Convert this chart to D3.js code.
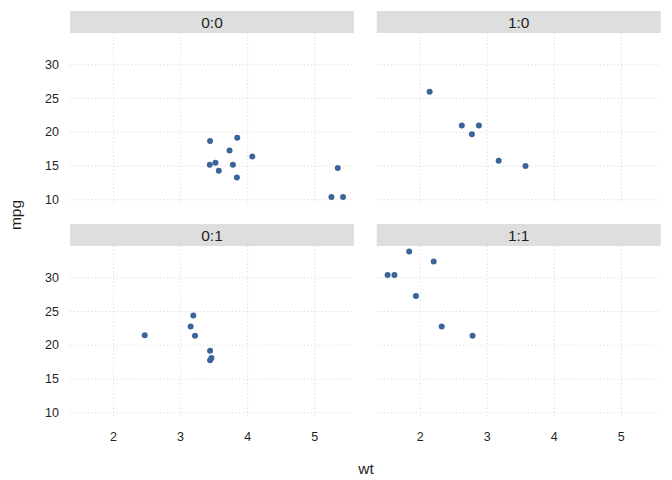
<!DOCTYPE html>
<html>
<head>
<meta charset="utf-8">
<script src="https://cdn.jsdelivr.net/npm/d3@7"></script>
<style>
  body { margin: 0; background: #fff; }
  text { font-family: "Liberation Sans", Arial, Helvetica, sans-serif; }
</style>
</head>
<body>
<svg id="chart" width="672" height="480"></svg>
<script>
// mtcars: weight (1000 lbs), miles per gallon, transmission (am), engine (vs)
const wt  = [2.620, 2.875, 2.320, 3.215, 3.440, 3.460, 3.570, 3.190, 3.150, 3.440, 3.440, 4.070, 3.730, 3.780, 5.250, 5.424, 5.345, 2.200, 1.615, 1.835, 2.465, 3.520, 3.435, 3.840, 3.845, 1.935, 2.140, 1.513, 3.170, 2.770, 3.570, 2.780];
const mpg = [21.0, 21.0, 22.8, 21.4, 18.7, 18.1, 14.3, 24.4, 22.8, 19.2, 17.8, 16.4, 17.3, 15.2, 10.4, 10.4, 14.7, 32.4, 30.4, 33.9, 21.5, 15.5, 15.2, 13.3, 19.2, 27.3, 26.0, 30.4, 15.8, 19.7, 15.0, 21.4];
const am  = [1, 1, 1, 0, 0, 0, 0, 0, 0, 0, 0, 0, 0, 0, 0, 0, 0, 1, 1, 1, 0, 0, 0, 0, 0, 1, 1, 1, 1, 1, 1, 1];
const vs  = [0, 0, 1, 1, 0, 1, 0, 1, 1, 1, 1, 0, 0, 0, 0, 0, 0, 1, 1, 1, 1, 0, 0, 0, 0, 1, 0, 1, 0, 0, 0, 1];
const facetLabels = ["0:0", "1:0", "0:1", "1:1"];
const xTicks = [2, 3, 4, 5];
const yTicks = [10, 15, 20, 25, 30];

const svg = d3.select("#chart");
const gridColor = "#d4d4d4";
const pointColor = "#3b6598";
const textColor = "#1f1f1f";

const panelW = 284, panelH = 172, stripH = 22;
const colX = [70, 376.7];
const rowY = [11, 224];

const x = d3.scaleLinear().domain([1.35, 5.587]).range([0, panelW]);
const y = d3.scaleLinear().domain([9.23, 34.71]).range([panelH, 0]);

const data = wt.map((w, i) => ({ wt: w, mpg: mpg[i], key: am[i] + ":" + vs[i] }));

facetLabels.forEach((lab, k) => {
  const c = k % 2, r = Math.floor(k / 2);
  const g = svg.append("g").attr("transform", `translate(${colX[c]},${rowY[r] + stripH})`);

  // grid
  g.selectAll(".gx").data(xTicks).enter().append("line")
    .attr("x1", d => x(d)).attr("x2", d => x(d))
    .attr("y1", 0).attr("y2", panelH)
    .attr("stroke", gridColor).attr("stroke-width", 1)
    .attr("stroke-dasharray", "1,2.6");
  g.selectAll(".gy").data(yTicks).enter().append("line")
    .attr("x1", 0).attr("x2", panelW)
    .attr("y1", d => y(d)).attr("y2", d => y(d))
    .attr("stroke", gridColor).attr("stroke-width", 1)
    .attr("stroke-dasharray", "1,2.6");

  // points
  g.selectAll("circle").data(data.filter(d => d.key === lab)).enter().append("circle")
    .attr("cx", d => x(d.wt)).attr("cy", d => y(d.mpg))
    .attr("r", 3).attr("fill", pointColor);

  // strip
  const s = svg.append("g").attr("transform", `translate(${colX[c]},${rowY[r]})`);
  s.append("rect").attr("width", panelW).attr("height", stripH).attr("fill", "#dedede");
  s.append("text").attr("x", panelW / 2).attr("y", stripH / 2 + 0.8)
    .attr("text-anchor", "middle").attr("dominant-baseline", "central")
    .attr("font-size", 15.5).attr("fill", textColor).text(lab);

  // y axis labels on left column
  if (c === 0) {
    g.selectAll(".yl").data(yTicks).enter().append("text")
      .attr("x", -11).attr("y", d => y(d))
      .attr("text-anchor", "end").attr("dominant-baseline", "central")
      .attr("font-size", 12.5).attr("fill", textColor).text(d => d);
  }
  // x axis labels on bottom row
  if (r === 1) {
    g.selectAll(".xl").data(xTicks).enter().append("text")
      .attr("x", d => x(d)).attr("y", panelH + 18.5)
      .attr("text-anchor", "middle").attr("dominant-baseline", "central")
      .attr("font-size", 12.5).attr("fill", textColor).text(d => d);
  }
});

// axis titles
svg.append("text").attr("x", 366).attr("y", 468.5)
  .attr("text-anchor", "middle").attr("dominant-baseline", "central")
  .attr("font-size", 15.5).attr("fill", textColor).text("wt");
svg.append("text")
  .attr("transform", "translate(15,215) rotate(-90)")
  .attr("text-anchor", "middle").attr("dominant-baseline", "central")
  .attr("font-size", 15.5).attr("fill", textColor).text("mpg");
</script>
</body>
</html>
